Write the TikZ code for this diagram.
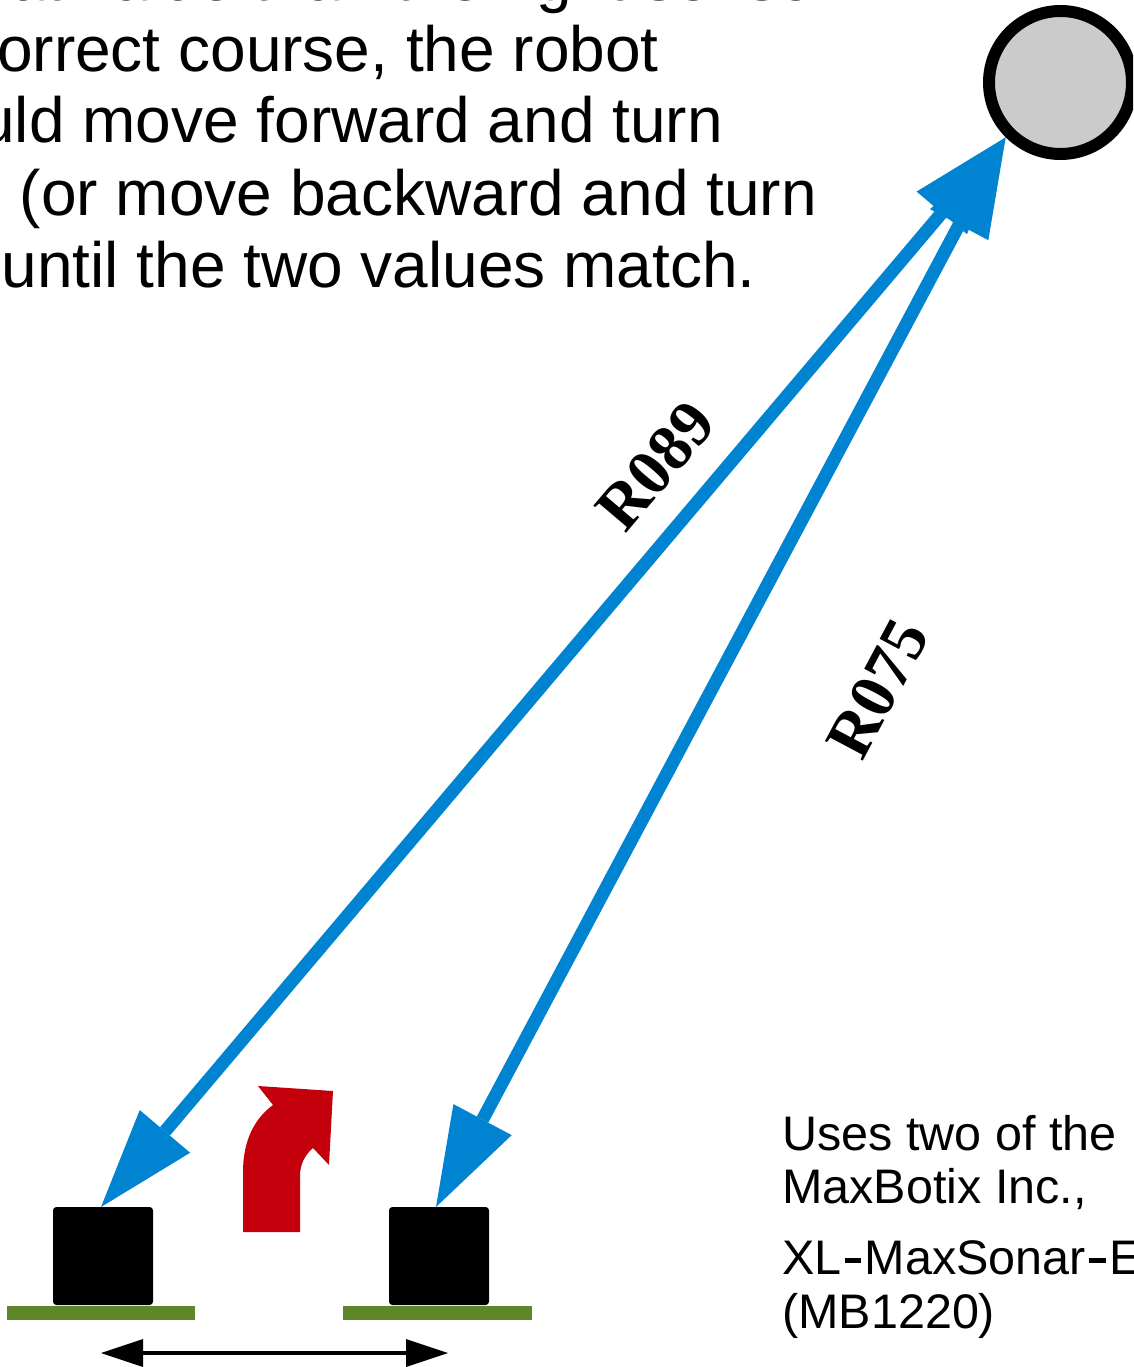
\documentclass[tikz,border=0pt]{standalone}
\usepackage{fontspec}
\setmainfont{Liberation Sans}
\newfontfamily\labelfont{Liberation Serif}
\usetikzlibrary{arrows.meta}
\definecolor{beamblue}{RGB}{0,132,209}
\definecolor{turnred}{RGB}{196,0,12}
\definecolor{boardgreen}{RGB}{94,135,42}
\definecolor{targetgray}{RGB}{203,203,203}
\newcommand\barhyph{\kern0.07em\rule[0.22em]{0.34em}{0.12em}\kern0.07em}
\tikzset{
  sensorbox/.style={draw=black, fill=black, line width=1pt, rounded corners=3pt, minimum width=99pt, minimum height=97pt, inner sep=0pt},
  boardbar/.style={fill=boardgreen, draw=none, minimum height=14pt, inner sep=0pt},
  beam/.style={draw=beamblue, line width=13pt,
    {Triangle[length=99pt,width=66pt,line width=0pt]}-{Triangle[length=99pt,width=66pt,line width=0pt]}},
  bigtext/.style={font=\fontsize{64}{70}\selectfont, inner sep=0pt, anchor=base east},
  notetext/.style={font=\fontsize{48.5}{54}\selectfont, inner sep=0pt, anchor=base west},
  rangelabel/.style={font=\labelfont\bfseries\fontsize{65}{66}\selectfont, inner sep=0pt},
  spacing/.style={line width=4pt, {Triangle[length=42pt,width=28pt,line width=0pt]}-{Triangle[length=42pt,width=28pt,line width=0pt]}}
}
\begin{document}
\begin{tikzpicture}[x=1pt,y=-1pt]
\useasboundingbox (0,0) rectangle (1133,1367);
\clip (0,0) rectangle (1133,1367);

% top explanatory text (cropped in the reference)
\node[bigtext] (t1) at (836,1) {at value than the right sensor};
\node[bigtext] (t2) at (659,72) {orrect course, the robot};
\node[bigtext] (t3) at (723,143) {uld move forward and turn};
\node[bigtext] (t4) at (817,215) {(or move backward and turn};
\node[bigtext] (t5) at (756,287) {until the two values match.};

% target
\node[circle, draw=black, line width=12pt, fill=targetgray, minimum size=143pt, inner sep=0pt] (tgt) at (1060.5,82.5) {};

% sensors and boards
\node[boardbar, minimum width=188pt] (lb) at (101,1313) {};
\node[boardbar, minimum width=189pt] (rb) at (437.5,1313) {};
\node[sensorbox] (ls) at (103,1256) {};
\node[sensorbox] (rs) at (439,1256) {};

\coordinate (lsTop) at ([xshift=-2pt]ls.north);
\coordinate (rsTop) at ([xshift=-3pt]rs.north);
\coordinate (hit) at (tgt.225.5);

% sonar beams
\draw[beam] (lsTop) -- (hit);
\draw[beam] (rsTop) -- (hit);

% range labels
\node[rangelabel, rotate=49.7] (r1) at (656,466) {R089};
\node[rangelabel, rotate=62] (r2) at (878,689) {R075};

% red turn arrow
\fill[turnred] (243,1232) -- (243,1172)
  .. controls (243,1140) and (255,1118) .. (273,1105)
  -- (258,1086) -- (333,1091) -- (329,1165) -- (313,1148)
  .. controls (305,1155) and (300,1164) .. (300,1176)
  -- (300,1232) -- cycle;

% spacing arrow
\coordinate (sp1) at (101,1353);
\coordinate (sp2) at (448,1353);
\draw[spacing] (sp1) -- (sp2);

% note text
\node[notetext] (n1) at (782,1150) {Uses two of the};
\node[notetext] (n2) at (782,1203) {MaxBotix Inc.,};
\node[notetext] (n3) at (782,1274) {XL\barhyph MaxSonar\barhyph E};
\node[notetext] (n4) at (782,1328) {(MB1220)};
\end{tikzpicture}
\end{document}
